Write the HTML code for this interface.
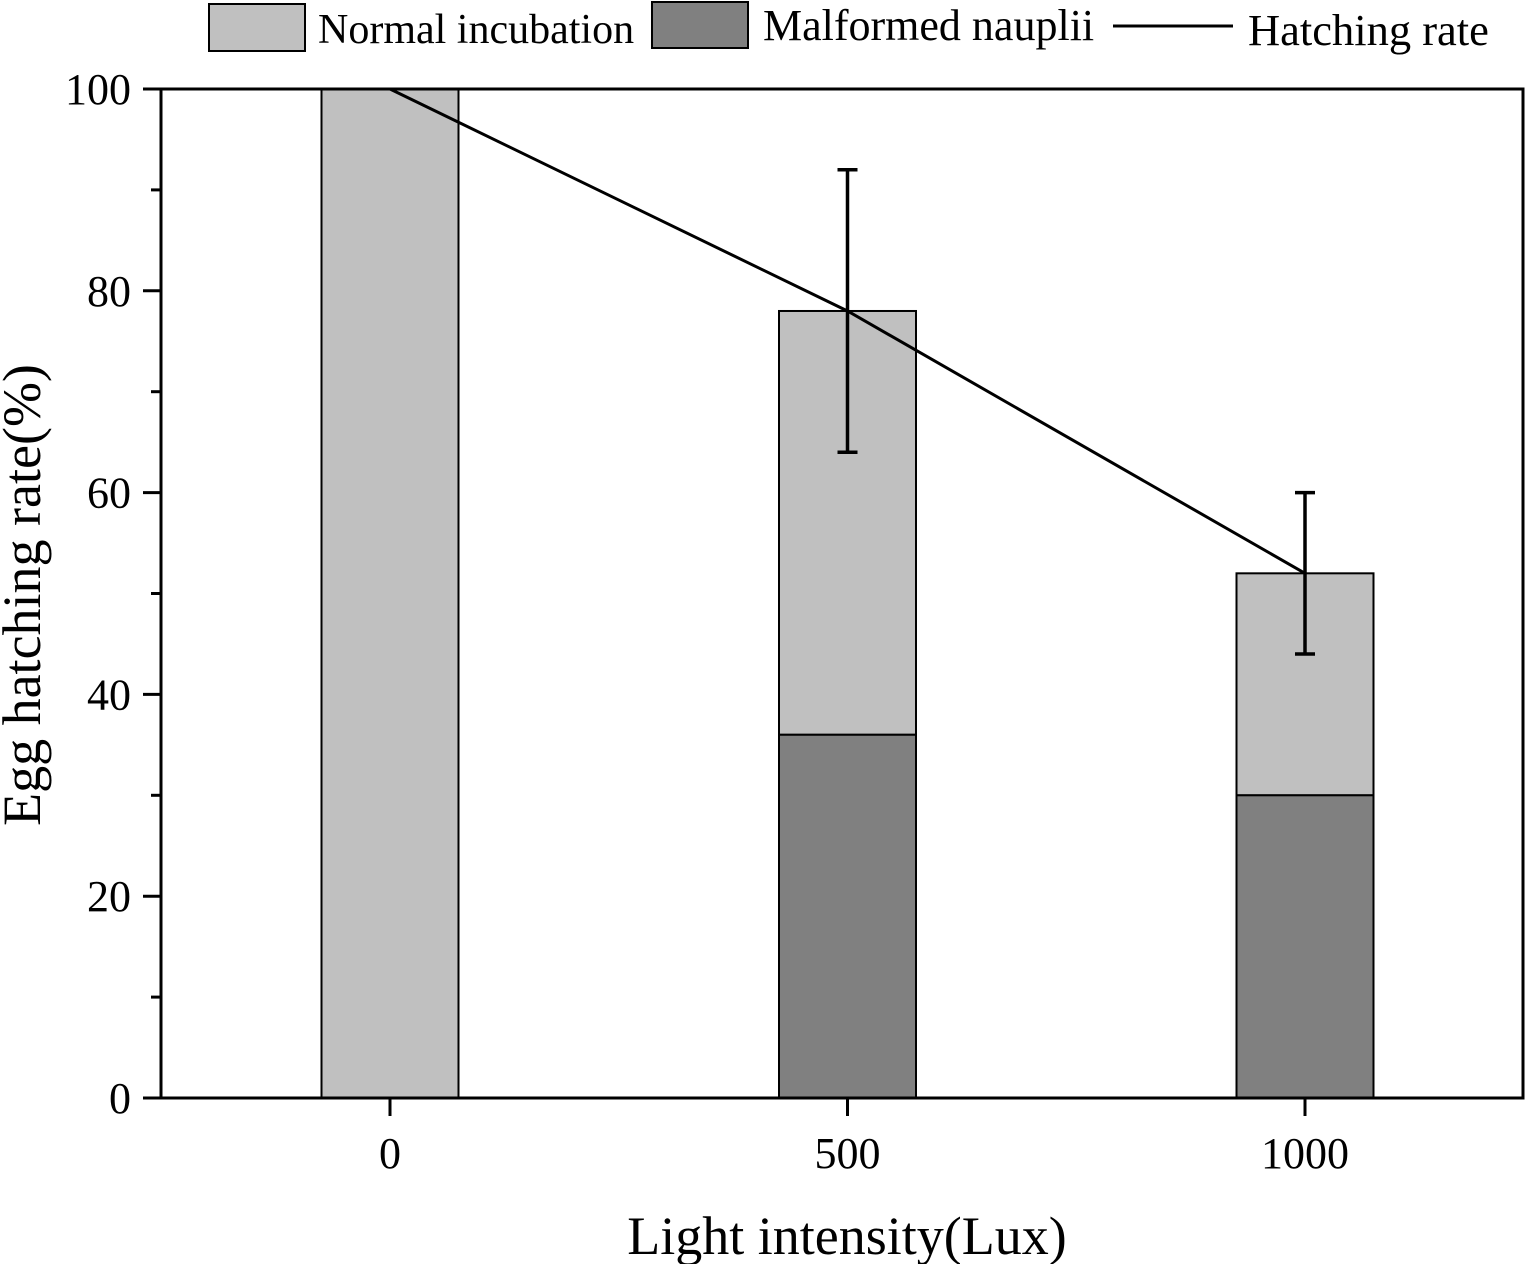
<!DOCTYPE html>
<html><head><meta charset="utf-8"><style>
html,body{margin:0;padding:0;background:#fff}
svg{display:block;font-family:"Liberation Serif",serif}
</style></head><body>
<svg id="chart" width="1535" height="1264" viewBox="0 0 1535 1264" xmlns="http://www.w3.org/2000/svg">
<g id="legend">
<rect x="209" y="4" width="96" height="47" fill="#c0c0c0" stroke="#000" stroke-width="2"/>
<text x="318" y="43" font-size="42">Normal incubation</text>
<rect x="652" y="2" width="96" height="46" fill="#808080" stroke="#000" stroke-width="2"/>
<text x="763" y="40" font-size="44">Malformed nauplii</text>
<line x1="1113" y1="26" x2="1233" y2="26" stroke="#000" stroke-width="3"/>
<text x="1248" y="45" font-size="44.5">Hatching rate</text>
</g>
<g id="plot"></g>
<text transform="translate(40,595) rotate(-90)" text-anchor="middle" font-size="54">Egg hatching rate(%)</text>
<text x="847" y="1254" text-anchor="middle" font-size="54">Light intensity(Lux)</text>
</svg>
<script>
const categories = ["0","500","1000"];
const normalTotal = [100,78,52];
const malformed = [0,36,30];
const hatchingRate = [100,78,52];
const errLow = [100,64,44];
const errHigh = [100,92,60];
const yTicks = [0,20,40,60,80,100];
const yMinorTicks = [10,30,50,70,90];

const L=161,R=1523,T=89,B=1098;
const y=v=>B-(v/100)*(B-T);
const x=i=>390+i*457.5;
const bw=137;
const ns="http://www.w3.org/2000/svg";
const g=document.getElementById('plot');
function mk(tag,attrs){const e=document.createElementNS(ns,tag);for(const k in attrs)e.setAttribute(k,attrs[k]);g.appendChild(e);return e;}

categories.forEach((c,i)=>{
  const r1=mk('rect',{x:x(i)-bw/2,y:y(normalTotal[i]),width:bw,height:y(malformed[i])-y(normalTotal[i]),fill:'#c0c0c0',stroke:'#000','stroke-width':2});
  
  
  if(malformed[i]>0){
    const r2=mk('rect',{x:x(i)-bw/2,y:y(malformed[i]),width:bw,height:y(0)-y(malformed[i]),fill:'#808080',stroke:'#000','stroke-width':2});
    
    
  }
});
const pl=mk('polyline',{points:hatchingRate.map((v,i)=>x(i)+','+y(v)).join(' '),fill:'none',stroke:'#000','stroke-width':3});


categories.forEach((c,i)=>{
  if(errHigh[i]===errLow[i])return;
  const e=mk('path',{d:`M${x(i)},${y(errLow[i])}V${y(errHigh[i])}M${x(i)-10},${y(errLow[i])}H${x(i)+10}M${x(i)-10},${y(errHigh[i])}H${x(i)+10}`,stroke:'#000','stroke-width':3.5,fill:'none'});
  
  
});
const frame=mk('rect',{x:L,y:T,width:R-L,height:B-T,fill:'none',stroke:'#000','stroke-width':3});


yTicks.forEach(v=>{
  const t=mk('line',{x1:L-18,x2:L,y1:y(v),y2:y(v),stroke:'#000','stroke-width':3});
  
  
  const l=mk('text',{x:L-30,y:y(v)+15,'text-anchor':'end','font-size':44});
  l.textContent=v;
  
  
});
yMinorTicks.forEach(v=>{
  const t=mk('line',{x1:L-10,x2:L,y1:y(v),y2:y(v),stroke:'#000','stroke-width':3});
  
  
});
categories.forEach((c,i)=>{
  const t=mk('line',{x1:x(i),x2:x(i),y1:B,y2:B+18,stroke:'#000','stroke-width':3});
  
  
  const l=mk('text',{x:x(i),y:1168,'text-anchor':'middle','font-size':44});
  l.textContent=c;
  
  
});
</script>
</body></html>
